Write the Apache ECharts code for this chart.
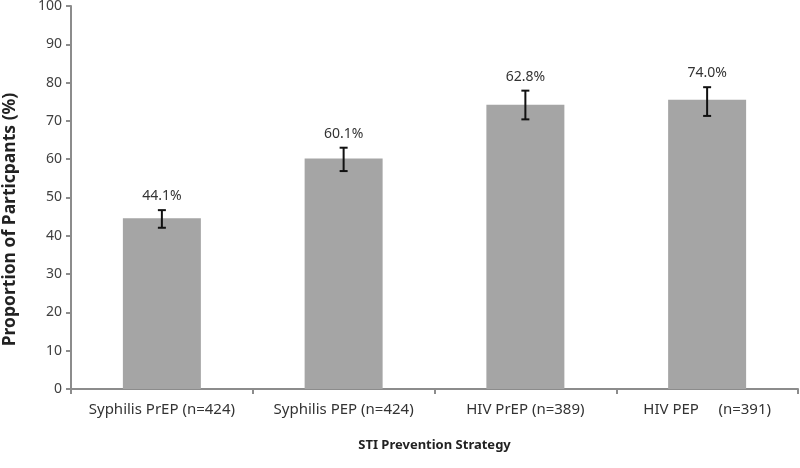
<!DOCTYPE html>
<html>
<head>
<meta charset="utf-8">
<script src="https://cdn.jsdelivr.net/npm/echarts@6/dist/echarts.min.js"></script>
<style>html,body{margin:0;padding:0;background:#fff}#c{width:800px;height:468px}</style>
</head>
<body>
<div id="c"></div>
<script>
var categories = ['Syphilis PrEP (n=424)', 'Syphilis PEP (n=424)', 'HIV PrEP (n=389)', 'HIV PEP     (n=391)'];
var values = [44.6, 60.2, 74.2, 75.5];
var errLow = [42.1, 56.9, 70.4, 71.3];
var errHigh = [46.7, 63.0, 77.9, 78.8];
var barLabels = ['44.1%', '60.1%', '62.8%', '74.0%'];
var yTicks = {min: 0, max: 100, interval: 10};

var errData = categories.map(function (c, i) { return [i, errLow[i], errHigh[i], barLabels[i]]; });

var chart = echarts.init(document.getElementById('c'), null, {renderer: 'canvas'});
var FONT = 'Noto Sans';
chart.setOption({
  animation: false,
  backgroundColor: '#fff',
  grid: {left: 71, right: 2, top: 6, bottom: 79, containLabel: false, outerBoundsMode: 'none'},
  xAxis: {
    type: 'category',
    data: categories,
    name: 'STI Prevention Strategy',
    nameLocation: 'middle',
    nameGap: 50,
    nameTextStyle: {fontFamily: FONT, fontWeight: 'bold', fontSize: 13, color: '#222'},
    axisLine: {lineStyle: {color: '#8c8c8c', width: 2}},
    axisTick: {show: true, length: 5, lineStyle: {color: '#8c8c8c', width: 2}},
    axisLabel: {interval: 0, hideOverlap: false, fontFamily: FONT, fontSize: 15, color: '#333', margin: 13}
  },
  yAxis: {
    type: 'value',
    min: yTicks.min, max: yTicks.max, interval: yTicks.interval,
    name: 'Proportion of Particpants (%)',
    nameLocation: 'middle',
    nameGap: 52,
    nameRotate: 90,
    nameTextStyle: {fontFamily: FONT, fontWeight: 'bold', fontSize: 17.5, color: '#222', padding: [0, 44, 0, 0]},
    axisLine: {show: true, lineStyle: {color: '#8c8c8c', width: 2}},
    axisTick: {show: true, length: 5, lineStyle: {color: '#8c8c8c', width: 2}},
    splitLine: {show: false},
    axisLabel: {fontFamily: FONT, fontSize: 14, color: '#404040', margin: 9}
  },
  series: [
    {
      type: 'bar',
      data: values,
      barWidth: 78,
      itemStyle: {color: '#a5a5a5'}
    },
    {
      type: 'custom',
      data: errData,
      z: 10,
      renderItem: function (params, api) {
        var x = api.value(0);
        var lo = api.coord([x, api.value(1)]);
        var hi = api.coord([x, api.value(2)]);
        var cap = 4;
        var st = {stroke: '#111', lineWidth: 2};
        return {
          type: 'group',
          children: [
            {type: 'line', shape: {x1: hi[0], y1: hi[1], x2: lo[0], y2: lo[1]}, style: st},
            {type: 'line', shape: {x1: hi[0] - cap, y1: hi[1], x2: hi[0] + cap, y2: hi[1]}, style: st},
            {type: 'line', shape: {x1: lo[0] - cap, y1: lo[1], x2: lo[0] + cap, y2: lo[1]}, style: st},
            {type: 'text', style: {x: hi[0], y: hi[1] - 14, text: barLabels[params.dataIndex], align: 'center', verticalAlign: 'middle', fontFamily: FONT, fontSize: 14, fill: '#333'}}
          ]
        };
      }
    }
  ]
});
</script>
</body>
</html>
